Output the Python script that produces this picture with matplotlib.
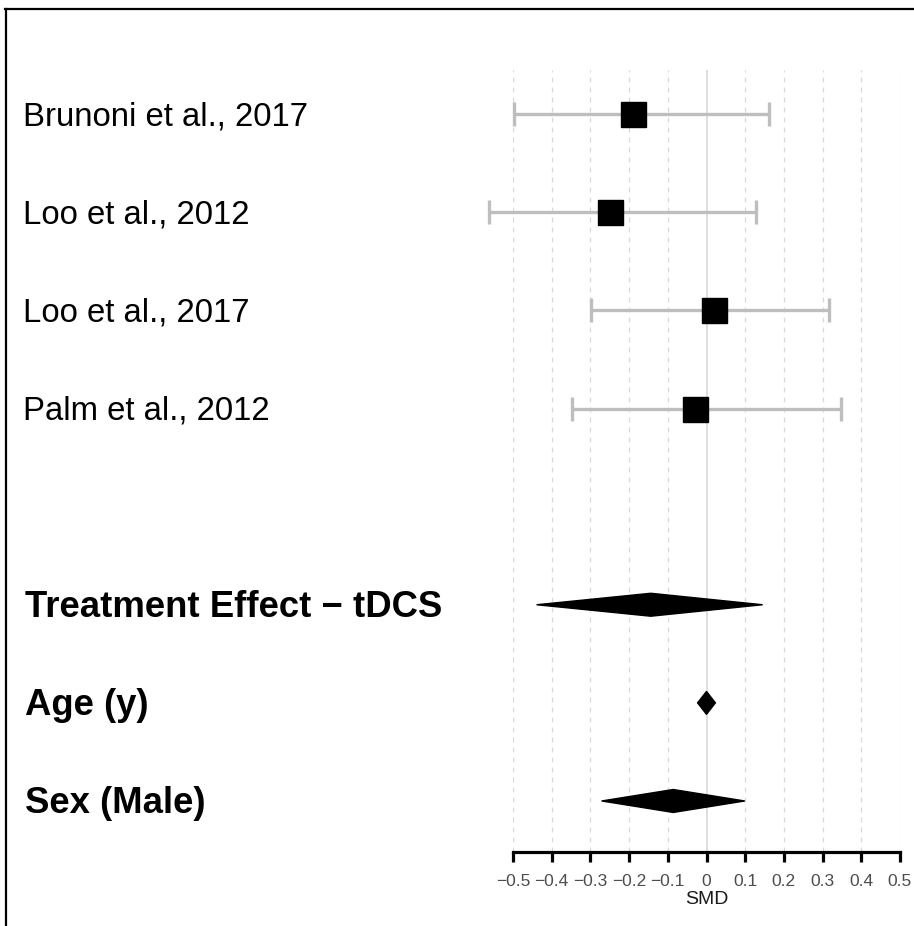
import numpy as np
import matplotlib.pyplot as plt
from matplotlib.lines import Line2D
from matplotlib.patches import Polygon
import matplotlib.transforms as mtransforms

plt.rcParams['font.family'] = ['Liberation Sans', 'DejaVu Sans']

# study estimates (SMD with 95% CI)
studies = ["Brunoni et al., 2017", "Loo et al., 2012", "Loo et al., 2017", "Palm et al., 2012"]
study_est = [-0.19, -0.25, 0.02, -0.03]
study_lo = [-0.497, -0.561, -0.298, -0.347]
study_hi = [0.161, 0.128, 0.317, 0.348]

# pooled / meta-regression rows
summaries = ["Treatment Effect \u2212 tDCS", "Age (y)", "Sex (Male)"]
sum_est = [-0.144, 0.0, -0.086]
sum_lo = [-0.439, -0.023, -0.271]
sum_hi = [0.145, 0.023, 0.099]

ticks = np.round(np.arange(-0.5, 0.51, 0.1), 1)

fig = plt.figure(figsize=(9.14, 9.26), dpi=100)
ax = fig.add_axes([513/914, (926-852)/926, 387/914, 782/926])

# grid
for t in ticks:
    if t == 0:
        ax.axvline(0, color="#d4d4d4", lw=1.1, zorder=0)
    else:
        ax.axvline(t, color="#d9d9d9", lw=0.9, ls=(0, (4, 4)), zorder=0)

trans = mtransforms.blended_transform_factory(fig.transFigure, ax.transData)
dy = 0.03  # nudge labels down a little

# study rows
y_st = np.arange(len(studies))
err = [np.array(study_est) - np.array(study_lo), np.array(study_hi) - np.array(study_est)]
ax.errorbar(study_est, y_st, xerr=err, fmt="none", ecolor="#bebebe",
            elinewidth=2.4, capsize=8.3, capthick=2.4, clip_on=False, zorder=2)
ax.plot(study_est, y_st, "s", color="black", ms=18, zorder=3, clip_on=False)
for y, name in zip(y_st, studies):
    ax.text(0.025, y + dy, name, transform=trans, fontsize=23.7, va="center", ha="left")

# summary diamonds
y_sum = np.arange(len(summaries)) + len(studies) + 1
h = 0.117
for y, e, lo, hi, name in zip(y_sum, sum_est, sum_lo, sum_hi, summaries):
    ax.add_patch(Polygon([[lo, y], [e, y - h], [hi, y], [e, y + h]],
                         closed=True, color="black", zorder=3, clip_on=False))
    ax.text(0.027, y + dy, name, transform=trans, fontsize=26.3, fontweight="bold",
            va="center", ha="left")

ax.set_xlim(-0.5, 0.5)
ax.set_ylim(7.52, -0.45)
ax.set_yticks([])
for s in ["top", "right", "left"]:
    ax.spines[s].set_visible(False)
ax.spines["bottom"].set_linewidth(2.3)
ax.set_xticks(ticks)
ax.set_xticklabels(["0" if t == 0 else f"{t:g}".replace("-", "\u2212") for t in ticks])
ax.tick_params(axis="x", length=7.5, width=2.3, labelsize=12.5, labelcolor="#4d4d4d", pad=8)
ax.set_xlabel("SMD", fontsize=14, color="#1a1a1a", labelpad=2)

# outer frame lines (top and left)
fig.add_artist(Line2D([5/914, 1], [1 - 9/926, 1 - 9/926], color="black", lw=1.6,
                      transform=fig.transFigure))
fig.add_artist(Line2D([6/914, 6/914], [0, 1 - 9/926], color="black", lw=1.6,
                      transform=fig.transFigure))

fig.savefig("out.png", dpi=100)
